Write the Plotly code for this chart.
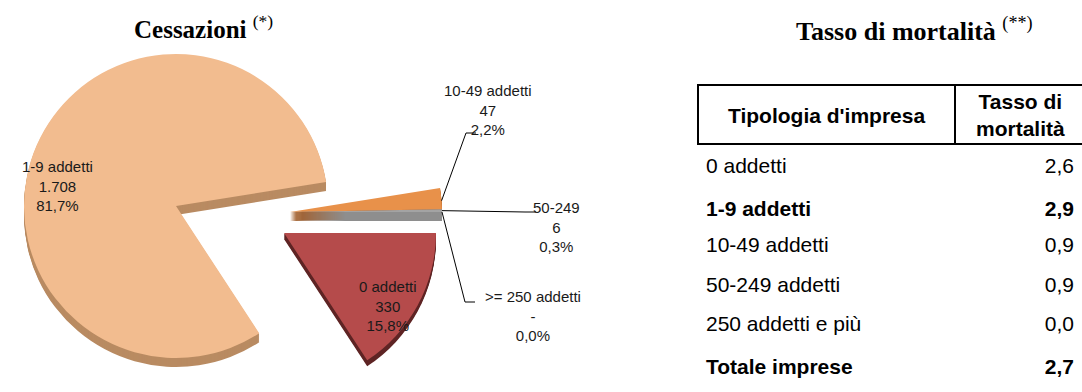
import numpy as np
import plotly.graph_objects as go

# ---------------- data ----------------
categories = ["0 addetti", "1-9 addetti", "10-49 addetti", "50-249", ">= 250 addetti"]
cessazioni = [330, 1708, 47, 6, 0]

table_header = ["Tipologia d'impresa", "Tasso di<br>mortalità"]
table_rows = ["0 addetti", "1-9 addetti", "10-49 addetti", "50-249 addetti",
              "250 addetti e più", "Totale imprese"]
tasso_mortalita = [2.6, 2.9, 0.9, 0.9, 0.0, 2.7]

# ---------------- styling / layout ----------------
W, H = 1082, 392
R = 152            # pie radius in px
top_colors = ["#B54B4B", "#F2BC8F", "#E8914A", "#A3A3A3", "#7F7F7F"]
side_colors = ["#5E2424", "#B98B62", "#A65A22", "#8E8E8E", "#666666"]
# exploded groups: members + apex position (px) + fake 3D thickness (px)
groups = [
    dict(members=[1], cx=176, cy=206, depth=9),
    dict(members=[2, 3, 4], cx=290, cy=212, depth=9),
    dict(members=[0], cx=284, cy=233, depth=6),
]
bold_rows = {1, 5}
SANS = "Liberation Sans, Arial, sans-serif"
SERIF = "Liberation Serif, Times New Roman, serif"


def px(x):
    return x / W


def py(y):
    return 1 - y / H


def domain(cx, cy, r):
    return dict(x=[px(cx - r), px(cx + r)], y=[py(cy + r), py(cy - r)])


def fmt_int(v):
    return "-" if v == 0 else f"{v:,}".replace(",", ".")


def fmt_dec(v):
    return f"{v:.1f}".replace(".", ",")


total = sum(cessazioni)
pcts = [v / total * 100 for v in cessazioni]
labels_txt = [f"{c}<br>{fmt_int(v)}<br>{fmt_dec(p)}%" for c, v, p in zip(categories, cessazioni, pcts)]

fig = go.Figure()

for g in groups:
    for k in range(g["depth"], -1, -1):
        cols = side_colors if k > 0 else top_colors
        colors = [cols[i] if i in g["members"] else "rgba(0,0,0,0)" for i in range(len(cessazioni))]
        fig.add_trace(go.Pie(
            values=cessazioni, labels=categories, sort=False, direction="clockwise",
            rotation=90, marker=dict(colors=colors, line=dict(width=0)),
            textinfo="none", hoverinfo="skip", showlegend=False,
            domain=domain(g["cx"], g["cy"] + k, R),
        ))

# slice angles (clockwise from 12 o'clock)
cum = 90 + np.concatenate([[0], np.cumsum(cessazioni)]) / total * 360


def arc_point(i, frac, grp):
    a = np.deg2rad(cum[i] + (cum[i + 1] - cum[i]) * frac)
    return grp["cx"] + R * np.sin(a), grp["cy"] - R * np.cos(a)


small = groups[1]
annotations = []
shapes = []

# labels inside slices
annotations.append(dict(x=px(57), y=py(186), text=labels_txt[1]))
annotations.append(dict(x=px(388), y=py(306), text=labels_txt[0]))

# labels with leader lines: (slice idx, start frac, elbow, end, label center)
leaders = [
    (2, 0.6, (466, 133), (476, 133), (488, 110)),
    (3, 0.5, (525, 212), (536, 212), (556, 227)),
    (4, 0.0, (465, 302), (475, 302), (533, 316)),
]
for i, frac, elbow, end, lab in leaders:
    sx, sy = arc_point(i, frac, small)
    shapes.append(dict(type="path", xref="paper", yref="paper",
                       path=f"M {px(sx)},{py(sy)} L {px(elbow[0])},{py(elbow[1])} L {px(end[0])},{py(end[1])}",
                       line=dict(color="black", width=1)))
    annotations.append(dict(x=px(lab[0]), y=py(lab[1]), text=labels_txt[i]))

for a in annotations:
    a.update(xref="paper", yref="paper", showarrow=False, xanchor="center", yanchor="middle",
             font=dict(family=SANS, size=15, color="#1a1a1a"))

# titles
annotations.append(dict(x=px(203), y=py(27), xref="paper", yref="paper", showarrow=False,
                        xanchor="center", yanchor="middle",
                        text="<b>Cessazioni</b> <sup>(*)</sup>",
                        font=dict(family=SERIF, size=25, color="black")))
annotations.append(dict(x=px(914), y=py(29), xref="paper", yref="paper", showarrow=False,
                        xanchor="center", yanchor="middle",
                        text="<b>Tasso di mortalità</b> <sup>(**)</sup>",
                        font=dict(family=SERIF, size=26, color="black")))

# table header box + labels
TX0, TX1, TXD, TY0, TY1 = 698, 1083, 955, 85, 144
shapes.append(dict(type="rect", xref="paper", yref="paper", x0=px(TX0), x1=px(TX1),
                   y0=py(TY1), y1=py(TY0), line=dict(color="black", width=2)))
shapes.append(dict(type="line", xref="paper", yref="paper", x0=px(TXD), x1=px(TXD),
                   y0=py(TY1), y1=py(TY0), line=dict(color="black", width=2)))
annotations.append(dict(x=px((TX0 + TXD) / 2), y=py(115), xref="paper", yref="paper",
                        showarrow=False, xanchor="center", yanchor="middle",
                        text=f"<b>{table_header[0]}</b>",
                        font=dict(family=SANS, size=21, color="black")))
annotations.append(dict(x=px(1020), y=py(115), xref="paper", yref="paper",
                        showarrow=False, xanchor="center", yanchor="middle",
                        text=f"<b>{table_header[1]}</b>",
                        font=dict(family=SANS, size=21, color="black")))

# table body
col1 = [f"<b>{t}</b>" if i in bold_rows else t for i, t in enumerate(table_rows)]
col2 = [f"<b>{fmt_dec(v)}</b>" if i in bold_rows else fmt_dec(v) for i, v in enumerate(tasso_mortalita)]
fig.add_trace(go.Table(
    domain=dict(x=[px(698), 1.0], y=[0, py(85)]),
    columnwidth=[257, 127],
    header=dict(values=["", ""], height=64, fill_color="rgba(0,0,0,0)",
                line=dict(color="rgba(0,0,0,0)", width=0)),
    cells=dict(values=[col1, col2], height=39.6, align=["left", "right"],
               fill_color="white", line=dict(color="white", width=0),
               font=dict(family=SANS, size=21, color="black")),
))

fig.update_layout(width=W, height=H, margin=dict(l=0, r=0, t=0, b=0),
                  paper_bgcolor="white", plot_bgcolor="white",
                  annotations=annotations, shapes=shapes)

fig.write_html("out.html")
